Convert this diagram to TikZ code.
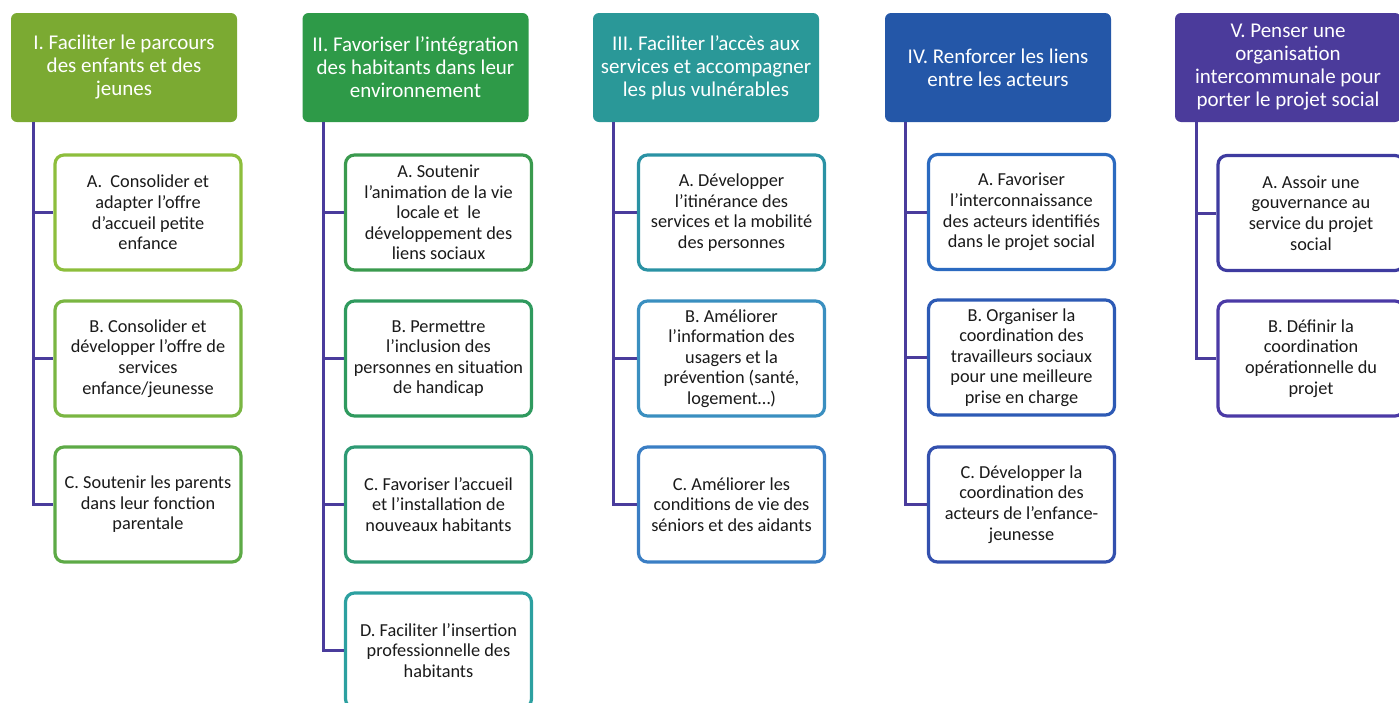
\documentclass[tikz,border=0pt]{standalone}
\usepackage{fontspec}
\setmainfont{Carlito}
\definecolor{hI}{HTML}{7BAA32}
\definecolor{hII}{HTML}{2E9A48}
\definecolor{hIII}{HTML}{2A9898}
\definecolor{hIV}{HTML}{2457A8}
\definecolor{hV}{HTML}{4B3B9B}
\definecolor{bIA}{HTML}{8DBE3C}
\definecolor{bIB}{HTML}{7AB642}
\definecolor{bIC}{HTML}{5DAA46}
\definecolor{bIIA}{HTML}{3A9A4E}
\definecolor{bIIB}{HTML}{2F9A5E}
\definecolor{bIIC}{HTML}{2E9A74}
\definecolor{bIID}{HTML}{2CA0A0}
\definecolor{bIIIA}{HTML}{2A92A4}
\definecolor{bIIIB}{HTML}{3A8FC0}
\definecolor{bIIIC}{HTML}{3A7EC4}
\definecolor{bIVA}{HTML}{2B6AC0}
\definecolor{bIVB}{HTML}{2D5AB5}
\definecolor{bIVC}{HTML}{3350AE}
\definecolor{bVA}{HTML}{3E3BA0}
\definecolor{bVB}{HTML}{4B3AA6}
\definecolor{conncol}{HTML}{4A3C9C}
\definecolor{txt}{HTML}{1A1A1A}
\tikzset{
  headbox/.style={rounded corners=6pt, fill=#1, draw=none, text=white,
    minimum width=226pt, minimum height=109pt, inner sep=0pt, align=center,
    font=\fontsize{21}{23}\selectfont},
  childbox/.style={rounded corners=9pt, draw=#1, line width=3.2pt, fill=white,
    text=txt, minimum width=186pt, minimum height=115pt, inner sep=0pt,
    align=center, font=\fontsize{18.3}{20.6}\selectfont},
  conn/.style={draw=conncol, line width=3pt}
}
\begin{document}
\begin{tikzpicture}[x=1pt,y=-1pt]
\useasboundingbox (0,0) rectangle (1399,702);
% ---------- Column I ----------
\node[headbox=hI] (HI) at (124,67.5) {I. Faciliter le parcours\\des enfants et des\\jeunes};
\node[childbox=bIA] (IA) at (148,212.5) {A.~~Consolider et\\adapter l’offre\\d’accueil petite\\enfance};
\node[childbox=bIB] (IB) at (148,358.5) {B. Consolider et\\développer l’offre de\\services\\enfance/jeunesse};
\node[childbox=bIC] (IC) at (148,504.5) {C. Soutenir les parents\\dans leur fonction\\parentale};
\coordinate (vI) at (33,122);
\draw[conn] (vI) |- (IC.west);
\draw[conn] (vI |- IA.west) -- (IA.west);
\draw[conn] (vI |- IB.west) -- (IB.west);
% ---------- Column II ----------
\node[headbox=hII] (HII) at (415.5,67.5) {II. Favoriser l’intégration\\des habitants dans leur\\environnement};
\node[childbox=bIIA] (IIA) at (438.5,212.5) {A. Soutenir\\l’animation de la vie\\locale et~ le\\développement des\\liens sociaux};
\node[childbox=bIIB] (IIB) at (438.5,358.5) {B. Permettre\\l’inclusion des\\personnes en situation\\de handicap};
\node[childbox=bIIC] (IIC) at (438.5,504.5) {C. Favoriser l’accueil\\et l’installation de\\nouveaux habitants};
\node[childbox=bIID] (IID) at (438.5,650.5) {D. Faciliter l’insertion\\professionnelle des\\habitants};
\coordinate (vII) at (323,122);
\draw[conn] (vII) |- (IID.west);
\draw[conn] (vII |- IIA.west) -- (IIA.west);
\draw[conn] (vII |- IIB.west) -- (IIB.west);
\draw[conn] (vII |- IIC.west) -- (IIC.west);
% ---------- Column III ----------
\node[headbox=hIII] (HIII) at (706,67.5) {III. Faciliter l’accès aux\\services et accompagner\\les plus vulnérables};
\node[childbox=bIIIA] (IIIA) at (731.5,212.5) {A. Développer\\l’itinérance des\\services et la mobilité\\des personnes};
\node[childbox=bIIIB] (IIIB) at (731.5,358.5) {B. Améliorer\\l’information des\\usagers et la\\prévention (santé,\\logement…)};
\node[childbox=bIIIC] (IIIC) at (731.5,504.5) {C. Améliorer les\\conditions de vie des\\séniors et des aidants};
\coordinate (vIII) at (613,122);
\draw[conn] (vIII) |- (IIIC.west);
\draw[conn] (vIII |- IIIA.west) -- (IIIA.west);
\draw[conn] (vIII |- IIIB.west) -- (IIIB.west);
% ---------- Column IV ----------
\node[headbox=hIV] (HIV) at (998,67.5) {IV. Renforcer les liens\\entre les acteurs};
\node[childbox=bIVA] (IVA) at (1021.5,212) {A. Favoriser\\l’interconnaissance\\des acteurs identifiés\\dans le projet social};
\node[childbox=bIVB] (IVB) at (1021.5,357.5) {B. Organiser la\\coordination des\\travailleurs sociaux\\pour une meilleure\\prise en charge};
\node[childbox=bIVC] (IVC) at (1021.5,504.5) {C. Développer la\\coordination des\\acteurs de l’enfance-\\jeunesse};
\coordinate (vIV) at (905,122);
\draw[conn] (vIV) |- (IVC.west);
\draw[conn] (vIV |- IVA.west) -- (IVA.west);
\draw[conn] (vIV |- IVB.west) -- (IVB.west);
% ---------- Column V ----------
\node[headbox=hV] (HV) at (1288,67.5) {V. Penser une\\organisation\\intercommunale pour\\porter le projet social};
\node[childbox=bVA] (VA) at (1311,213) {A. Assoir une\\gouvernance au\\service du projet\\social};
\node[childbox=bVB] (VB) at (1311,358.5) {B. Définir la\\coordination\\opérationnelle du\\projet};
\coordinate (vV) at (1196,122);
\draw[conn] (vV) |- (VB.west);
\draw[conn] (vV |- VA.west) -- (VA.west);
\end{tikzpicture}
\end{document}
